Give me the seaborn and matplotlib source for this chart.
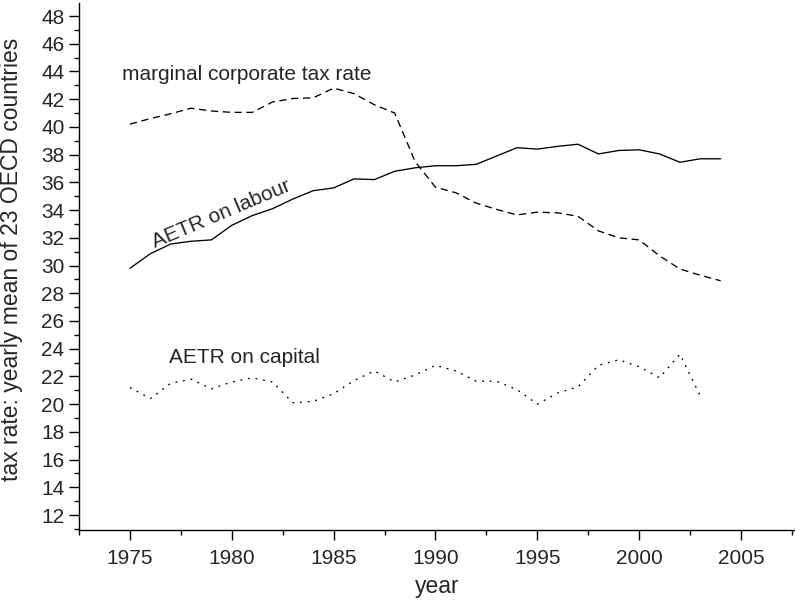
import numpy as np
import pandas as pd
import matplotlib
matplotlib.use("Agg")
import matplotlib.pyplot as plt
import seaborn as sns
from matplotlib.ticker import MultipleLocator

years_main = list(range(1975, 2005))
years_cap = list(range(1975, 2004))

aetr_labour = [29.8, 30.85, 31.55, 31.75, 31.85, 32.9, 33.6, 34.1, 34.8, 35.4,
               35.6, 36.25, 36.2, 36.8, 37.05, 37.2, 37.2, 37.3, 37.9, 38.5,
               38.4, 38.6, 38.75, 38.05, 38.3, 38.35, 38.05, 37.45, 37.7, 37.7]
corp_rate = [40.2, 40.6, 40.95, 41.35, 41.15, 41.05, 41.05, 41.8, 42.05, 42.1,
             42.8, 42.4, 41.6, 41.0, 37.5, 35.65, 35.25, 34.5, 34.05, 33.65,
             33.85, 33.8, 33.55, 32.5, 32.0, 31.85, 30.7, 29.75, 29.3, 28.9]
aetr_capital = [21.2, 20.4, 21.5, 21.8, 21.1, 21.6, 21.9, 21.6, 20.1, 20.2,
                20.75, 21.7, 22.4, 21.6, 22.1, 22.8, 22.4, 21.65, 21.65, 21.05,
                20.0, 20.8, 21.25, 22.8, 23.2, 22.7, 21.9, 23.6, 20.6]

series_names = ["labour", "corporate", "capital"]
y_ticks = list(range(12, 50, 2))
x_ticks = list(range(1975, 2010, 5))

df = pd.concat([
    pd.DataFrame({"year": years_main, "rate": aetr_labour, "series": "labour"}),
    pd.DataFrame({"year": years_main, "rate": corp_rate, "series": "corporate"}),
    pd.DataFrame({"year": years_cap, "rate": aetr_capital, "series": "capital"}),
])

sns.set_style("ticks")
plt.rcParams["font.family"] = ["Liberation Sans", "DejaVu Sans"]

fig = plt.figure(figsize=(7.95, 6.01), dpi=100)
ax = fig.add_axes([79 / 795, 1 - 530 / 601, 1 - 79 / 795, (530 - 3) / 601])

sns.lineplot(data=df, x="year", y="rate", hue="series", style="series",
             palette={s: "black" for s in series_names},
             dashes={"labour": "", "corporate": (5.5, 3.5), "capital": (1.4, 4.4)},
             linewidth=0.95, legend=False, ax=ax)

ax.set_xlim(1972.5, 2007.65)
ax.set_ylim(10.92, 48.94)
ax.set_xticks(x_ticks)
ax.set_yticks(y_ticks)
ax.xaxis.set_minor_locator(MultipleLocator(2.5))
ax.yaxis.set_minor_locator(MultipleLocator(1))
ax.tick_params(which="major", length=7.5, width=1.0, labelsize=15, pad=3, color="black")
ax.tick_params(axis="x", which="major", pad=6.5)
ax.tick_params(which="minor", length=3.8, width=1.0, color="black")
for side in ["top", "right"]:
    ax.spines[side].set_visible(False)
for side in ["left", "bottom"]:
    ax.spines[side].set_linewidth(1.0)
    ax.spines[side].set_color("black")

ax.set_xlabel("year", fontsize=16.5)
ax.set_ylabel("tax rate: yearly mean of 23 OECD countries", fontsize=16.5)
ax.xaxis.set_label_coords(0.5, (530 - 575) / 527)
ax.yaxis.set_label_coords((23 - 79) / 716, (530 - 259) / 527)

ax.text(1980.75, 43.75, "marginal corporate tax rate", fontsize=15,
        ha="center", va="center")
ax.text(1979.47, 33.72, "AETR on labour", fontsize=15, ha="center",
        va="center", rotation=22.9, rotation_mode="anchor")
ax.text(1980.6, 23.4, "AETR on capital", fontsize=15, ha="center", va="center")

fig.savefig("out.png", dpi=100)
